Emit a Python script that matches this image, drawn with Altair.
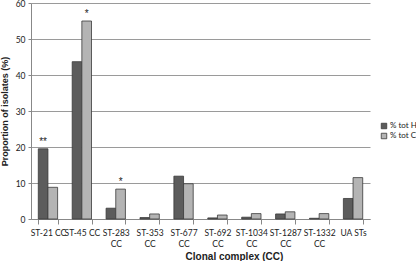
import altair as alt
import pandas as pd

categories = ["ST-21 CC", "ST-45 CC", "ST-283|CC", "ST-353|CC", "ST-677|CC",
              "ST-692|CC", "ST-1034|CC", "ST-1287|CC", "ST-1332|CC", "UA STs"]
series = ["% tot H", "% tot C"]
tot_h = [19.5, 43.7, 3.0, 0.4, 11.9, 0.3, 0.5, 1.4, 0.2, 5.7]
tot_c = [8.8, 55.0, 8.3, 1.4, 9.8, 1.1, 1.5, 2.0, 1.5, 11.5]

ann_cat = ["ST-21 CC", "ST-45 CC", "ST-283|CC"]
ann_series = ["% tot H", "% tot C", "% tot C"]
ann_val = [19.5, 55.0, 8.3]
ann_text = ["**", "*", "*"]

rows = []
for i, c in enumerate(categories):
    rows.append({"cat": c, "series": series[0], "value": tot_h[i]})
    rows.append({"cat": c, "series": series[1], "value": tot_c[i]})
df = pd.DataFrame(rows)
ann = pd.DataFrame({"cat": ann_cat, "series": ann_series, "value": ann_val, "label": ann_text})

FONT = "Lato"
xaxis = alt.Axis(title="Clonal complex (CC)", labelAngle=0,
                 labelExpr="isValid(datum.value) ? split(datum.value, '|') : ''",
                 labelOverlap=False, labelBound=False,
                 tickBand="extent", labelPadding=4,
                 labelLineHeight=11.5,
                 titleX=203, titleY=40, titleBaseline="alphabetic", titleAnchor="middle",
                 domainColor="#888888", tickColor="#888888",
                 labelFontSize=8.5, labelFont=FONT, labelColor="#222222",
                 titleFont="Liberation Sans", titleFontSize=10,
                 titleFontWeight="bold", titleColor="#222222")
yaxis = alt.Axis(title="Proportion of isolates (%)", values=[0, 10, 20, 30, 40, 50, 60],
                 grid=True, gridColor="#9a9a9a", gridWidth=1,
                 domainColor="#888888", tickColor="#888888", tickSize=3,
                 labelFontSize=8.5, labelFont=FONT, labelColor="#222222",
                 labelPadding=3, labelOverlap=False,
                 titleFont="Liberation Sans", titleFontSize=9,
                 titleFontWeight="bold", titleColor="#222222", titlePadding=6)
xscale = alt.Scale(paddingInner=0.43, paddingOuter=0.215)
yscale = alt.Scale(domain=[0, 60], nice=False)

bars = alt.Chart(df).mark_bar(stroke="#3a3a3a", strokeWidth=0.8).encode(
    x=alt.X("cat:N", sort=categories, scale=xscale, axis=xaxis),
    xOffset=alt.XOffset("series:N", sort=series, scale=alt.Scale(paddingInner=0, paddingOuter=0)),
    y=alt.Y("value:Q", scale=yscale, axis=yaxis),
    color=alt.Color("series:N", sort=series,
                    scale=alt.Scale(domain=series, range=["#5c5c5c", "#b4b4b4"]),
                    legend=alt.Legend(title=None, orient="none", legendX=349, legendY=119,
                                      symbolType="square", symbolSize=30,
                                      symbolStrokeColor="#3a3a3a", symbolStrokeWidth=0.8,
                                      labelFont=FONT, labelFontSize=8, labelColor="#222222",
                                      rowPadding=0, labelOffset=2, labelLimit=60)),
)

marks = alt.Chart(ann).mark_text(dy=-7, fontSize=10, font="Liberation Sans", color="#222222").encode(
    x=alt.X("cat:N", sort=categories, scale=xscale, axis=xaxis),
    xOffset=alt.XOffset("series:N", sort=series),
    y=alt.Y("value:Q", scale=yscale, axis=yaxis),
    text="label:N",
)

chart = alt.layer(bars, marks).properties(
    width=339, height=216,
    autosize=alt.AutoSizeParams(type="none"),
    padding={"left": 31, "top": 3, "right": 46, "bottom": 42},
).configure_view(stroke=None)

chart.save("out.html", embed_options={"renderer": "svg", "actions": False})
